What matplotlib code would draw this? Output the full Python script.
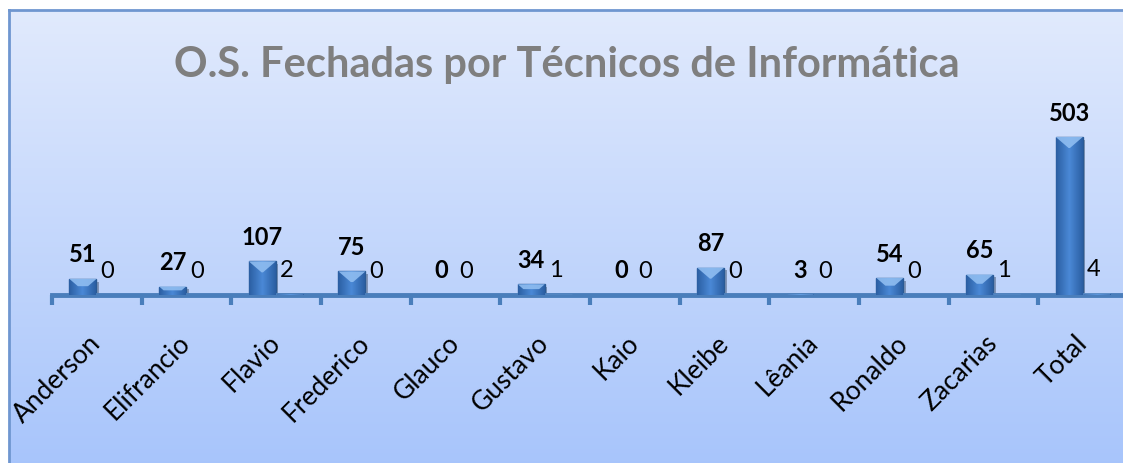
import matplotlib.pyplot as plt
import numpy as np
import matplotlib.patheffects as pe
from matplotlib.colors import LinearSegmentedColormap
from matplotlib.patches import Polygon

plt.rcParams['font.family'] = ['Lato', 'DejaVu Sans']

# data
tecnicos = ["Anderson", "Elifrancio", "Flavio", "Frederico", "Glauco", "Gustavo",
            "Kaio", "Kleibe", "Lêania", "Ronaldo", "Zacarias", "Total"]
fechadas = [51, 27, 107, 75, 0, 34, 0, 87, 3, 54, 65, 503]
outras = [0, 0, 2, 0, 0, 1, 0, 0, 0, 0, 1, 4]

W, H = 1123, 464
Y_MAX = 560
fig = plt.figure(figsize=(W / 100, H / 100), dpi=100)
fig.patch.set_facecolor("white")

# gradient chart area, border only on left/top (rest runs off the canvas)
bg = fig.add_axes([9 / W, -0.05, 1.05 - 9 / W, 0.05 + (H - 11) / H])
grad = np.linspace(0, 1, 256).reshape(-1, 1)
bg_cmap = LinearSegmentedColormap.from_list("bg", ["#e1eafd", "#a5c3fb"])
bg.imshow(grad, aspect="auto", cmap=bg_cmap, extent=[0, 1, 0, 1], origin="upper")
bg.set_xticks([])
bg.set_yticks([])
for side in ["bottom", "right"]:
    bg.spines[side].set_visible(False)
for side in ["left", "top"]:
    bg.spines[side].set_color("#6f96d0")
    bg.spines[side].set_linewidth(2)

# main axes
ax_h_px = Y_MAX * 0.3141
ax = fig.add_axes([52 / W, (H - 296) / H, 1076 / W, ax_h_px / H])
ax.patch.set_alpha(0)

x = np.arange(len(tecnicos))
w = 0.30
off = 0.155
px_per_unit = ax_h_px / Y_MAX

bar_cmap = LinearSegmentedColormap.from_list("bar", ["#4a88d6", "#2b5fa2"])
hgrad = np.abs(np.linspace(-1, 1, 64)).reshape(1, -1)

shadow = [pe.SimplePatchShadow(offset=(2, -2), alpha=0.35), pe.Normal()]
for xs, vals in [(x - off, fechadas), (x + off, outras)]:
    bars = ax.bar(xs, vals, w, color="#3b75c0", edgecolor="#2a5a94",
                  linewidth=1, zorder=2, path_effects=shadow)
    for rect, v in zip(bars, vals):
        if v <= 0:
            continue
        x0, x1 = rect.get_x(), rect.get_x() + rect.get_width()
        im = ax.imshow(hgrad, extent=[x0, x1, 0, v], aspect="auto",
                       cmap=bar_cmap, zorder=3)
        im.set_clip_path(rect)
        # light bevel on top
        h_px = v * px_per_unit
        depth_px = min(11, h_px * 0.45)
        dy = depth_px / px_per_unit
        dx = (x1 - x0) / 2 * min(1, depth_px / 11) * 0.95
        bevel = Polygon([(x0, v), (x1, v), (x1 - dx, v - dy), (x0 + dx, v - dy)],
                        closed=True, facecolor="#8fbdf1", edgecolor="none",
                        alpha=0.9, zorder=4)
        ax.add_patch(bevel)

# value labels
for i in range(len(tecnicos)):
    ax.annotate(str(fechadas[i]), (x[i] - off, fechadas[i]), xytext=(0, 18),
                textcoords="offset points", ha="center", va="center",
                fontsize=17, fontweight="bold", color="black")
    ax.annotate(str(outras[i]), (x[i] + 0.12, outras[i]), xytext=(0, 18),
                textcoords="offset points", ha="center", va="center",
                fontsize=17, color="black")

ax.set_xlim(-0.5, len(tecnicos) - 0.5)
ax.set_ylim(0, Y_MAX)
ax.set_yticks([])
for side in ["left", "right", "top"]:
    ax.spines[side].set_visible(False)
ax.spines["bottom"].set_color("#4a7ebb")
ax.spines["bottom"].set_linewidth(3.5)

ax.set_xticks(x)
ax.set_xticklabels(tecnicos)
ax.set_xticks(np.arange(-0.5, len(tecnicos), 1), minor=True)
ax.tick_params(axis="x", which="major", length=0, pad=31, labelsize=19)
ax.tick_params(axis="x", which="minor", length=7, width=3, color="#4a7ebb",
               direction="out")
for lbl in ax.get_xticklabels():
    lbl.set_rotation(45)
    lbl.set_ha("right")
    lbl.set_va("center")
    lbl.set_rotation_mode("anchor")

fig.text(567 / W, 1 - 65 / H, "O.S. Fechadas por Técnicos de Informática",
         ha="center", va="center", fontsize=30, fontweight="bold",
         color="#7f7f7f")

fig.savefig("out.png", dpi=100)
